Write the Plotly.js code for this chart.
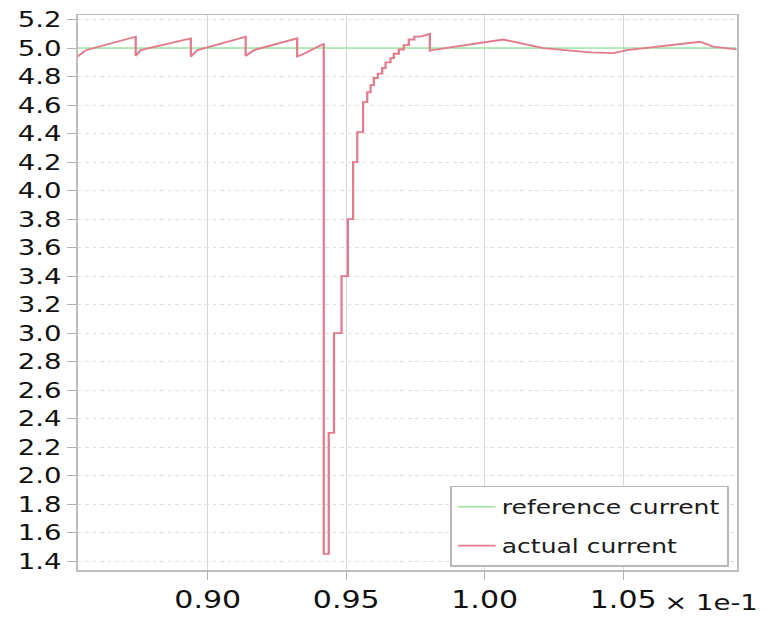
<!DOCTYPE html>
<html>
<head>
<meta charset="utf-8">
<script src="https://cdn.plot.ly/plotly-3.0.1.min.js"></script>
<style>
  html, body { margin: 0; padding: 0; background: #ffffff; }
  #wrap { width: 768px; height: 617px; overflow: hidden; }
  /* the reference picture is horizontally stretched; reproduce that stretch */
  #chart { width: 614px; height: 617px; transform: scaleX(1.2508); transform-origin: 0 0; }
</style>
</head>
<body>
<div id="wrap"><div id="chart"></div></div>
<script>
// time axis values, in units of 1e-1 s
const refTime = [0.853, 1.091];
const refCurrent = [5.0, 5.0];

const actualTime = [
  0.853, 0.856, 0.874,
  0.874, 0.8758, 0.8939,
  0.8939, 0.8963, 0.9137,
  0.9137, 0.9167, 0.9323,
  0.9323, 0.9347, 0.9419,
  0.9419, 0.9437,
  0.9437, 0.9456,
  0.9456, 0.9483,
  0.9483, 0.9506,
  0.9506, 0.9525,
  0.9525, 0.9540,
  0.9540, 0.9561,
  0.9561, 0.9576,
  0.9576, 0.9588,
  0.9588, 0.9600,
  0.9600, 0.9614,
  0.9614, 0.9630,
  0.9630, 0.9642,
  0.9642, 0.9660,
  0.9660, 0.9672,
  0.9672, 0.9690,
  0.9690, 0.9708,
  0.9708, 0.9726,
  0.9726, 0.9746,
  0.9746, 0.9768,
  0.9802,
  0.9802, 0.9810, 1.0067, 1.0212, 1.0381, 1.0464, 1.0514, 1.0778, 1.0825, 1.091
];
const actualCurrent = [
  4.94, 4.985, 5.08,
  4.944, 4.986, 5.068,
  4.94, 4.986, 5.08,
  4.944, 4.986, 5.068,
  4.94, 4.96, 5.03,
  1.45, 1.45,
  2.3, 2.3,
  3.0, 3.0,
  3.4, 3.4,
  3.8, 3.8,
  4.2, 4.2,
  4.41, 4.41,
  4.62, 4.62,
  4.69, 4.69,
  4.74, 4.74,
  4.79, 4.79,
  4.82, 4.82,
  4.86, 4.86,
  4.90, 4.90,
  4.93, 4.93,
  4.96, 4.96,
  4.99, 4.99,
  5.02, 5.02,
  5.06, 5.06,
  5.08, 5.08,
  5.10,
  4.98, 4.986, 5.06, 5.0, 4.97, 4.965, 4.986, 5.044, 5.01, 4.99
];

const xTickVals = [0.90, 0.95, 1.00, 1.05];
const xTickText = ['0.90', '0.95', '1.00', '1.05'];
const yTickVals = [1.4,1.6,1.8,2.0,2.2,2.4,2.6,2.8,3.0,3.2,3.4,3.6,3.8,4.0,4.2,4.4,4.6,4.8,5.0,5.2];
const yTickText = yTickVals.map(v => v.toFixed(1));
const seriesNames = ['reference current', 'actual current'];

const FONT = 'DejaVu Sans, Verdana, sans-serif';

const traces = [
  {
    x: refTime, y: refCurrent, mode: 'lines', name: seriesNames[0],
    line: { color: '#9fe39f', width: 1.5 }, legendgroup: 'a'
  },
  {
    x: actualTime, y: actualCurrent, mode: 'lines', name: seriesNames[1],
    line: { color: '#e57a8c', width: 1.8 }, legendgroup: 'b'
  }
];

const layout = {
  width: 614, height: 617,
  margin: { l: 62, r: 25, t: 15, b: 47 },
  paper_bgcolor: '#ffffff', plot_bgcolor: '#ffffff',
  font: { family: FONT, color: '#111' },
  showlegend: true,
  legend: {
    x: 0.988, xanchor: 'right', y: 0.006, yanchor: 'bottom',
    bgcolor: '#ffffff', bordercolor: '#b8b8b8', borderwidth: 1.5,
    font: { family: FONT, size: 20, color: '#1a1a1a' },
    traceorder: 'grouped', tracegroupgap: 10
  },
  xaxis: {
    range: [0.853, 1.091],
    tickmode: 'array', tickvals: xTickVals, ticktext: xTickText,
    tickfont: { family: FONT, size: 24, color: '#111' },
    ticks: 'outside', ticklen: 8, tickcolor: '#b0b0b0',
    showgrid: true, gridcolor: '#d6d6d6', gridwidth: 1,
    showline: true, linecolor: '#bdbdbd', linewidth: 1.5, mirror: true,
    zeroline: false
  },
  yaxis: {
    range: [1.337, 5.232],
    tickmode: 'array', tickvals: yTickVals, ticktext: yTickText,
    tickfont: { family: FONT, size: 22, color: '#111' },
    ticks: 'outside', ticklen: 7, tickcolor: '#b0b0b0',
    showgrid: true, gridcolor: '#dedede', gridwidth: 1, griddash: 'dot',
    showline: true, linecolor: '#bdbdbd', linewidth: 1.5, mirror: true,
    zeroline: false
  },
  annotations: [
    {
      xref: 'paper', yref: 'paper', x: 0.886, y: -0.058,
      xanchor: 'left', yanchor: 'middle', showarrow: false,
      text: '× 1e-1', font: { family: FONT, size: 22, color: '#111' }
    }
  ]
};

Plotly.newPlot('chart', traces, layout, { displayModeBar: false, staticPlot: true });
</script>
</body>
</html>
